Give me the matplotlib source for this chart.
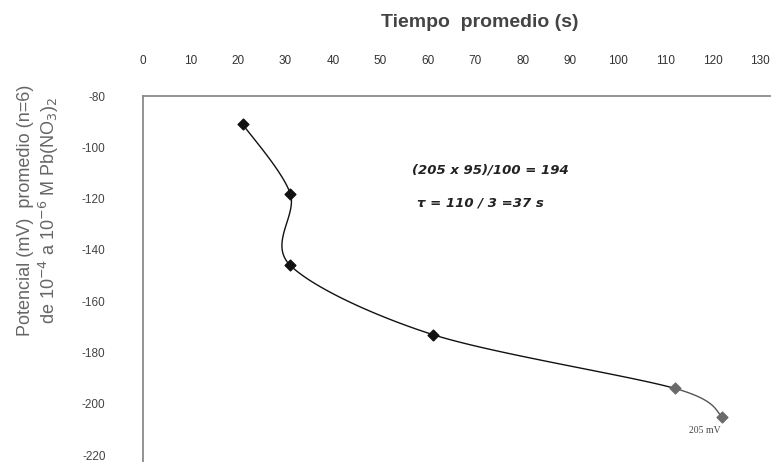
import numpy as np
import matplotlib
matplotlib.use("Agg")
import matplotlib.pyplot as plt

plt.rcParams["axes.unicode_minus"] = False

# tiempo promedio (s) vs potencial promedio (mV), n=6
tiempo = [21, 31, 31, 61, 112, 122]
potencial = [-91, -118, -146, -173, -194, -205]
x_ticks = list(range(0, 131, 10))
y_ticks = list(range(-220, -79, 20))


def smooth_curve(xs, ys, n=60, k=6.5):
    # Catmull-Rom style bezier smoothing (like a spreadsheet "smoothed line")
    pts = np.column_stack([xs, ys]).astype(float)
    padded = np.vstack([pts[0], pts, pts[-1]])
    segs = []
    t = np.linspace(0, 1, n)[:, None]
    for i in range(1, len(padded) - 2):
        p0, p1, p2, p3 = padded[i - 1], padded[i], padded[i + 1], padded[i + 2]
        c1 = p1 + (p2 - p0) / k
        c2 = p2 - (p3 - p1) / k
        seg = ((1 - t) ** 3) * p1 + 3 * ((1 - t) ** 2) * t * c1 + 3 * (1 - t) * t ** 2 * c2 + t ** 3 * p2
        segs.append(seg)
    return segs


fig = plt.figure(figsize=(7.71, 4.62), dpi=100)
ax = fig.add_axes([0.1855, 0.0, 0.813, 0.792])

segs = smooth_curve(tiempo, potencial)
for i, seg in enumerate(segs):
    col = "#555555" if i == len(segs) - 1 else "#111111"
    ax.plot(seg[:, 0], seg[:, 1], color=col, linewidth=1.0, zorder=2)

ax.scatter(tiempo[:4], potencial[:4], marker="D", s=30, color="#111111", zorder=3)
ax.scatter(tiempo[4:], potencial[4:], marker="D", s=30, color="#6a6a6a", zorder=3)

ax.set_xlim(0, 132)
ax.set_ylim(-222.7, -80)
ax.xaxis.tick_top()
ax.xaxis.set_label_position("top")
ax.set_xticks(x_ticks)
ax.set_yticks(y_ticks)
ax.tick_params(axis="x", length=0, pad=21, labelsize=8.5, labelcolor="#333333")
ax.tick_params(axis="y", length=0, pad=27, labelsize=8.5, labelcolor="#444444")
for lab in ax.get_xticklabels() + ax.get_yticklabels():
    lab.set_fontfamily("Liberation Sans")

for side in ("right", "bottom"):
    ax.spines[side].set_visible(False)
for side in ("top", "left"):
    ax.spines[side].set_color("#8a8a8a")
    ax.spines[side].set_linewidth(1.3)

fig.text(0.622, 0.952, "Tiempo  promedio (s)", ha="center", va="center",
         fontsize=14, fontweight="bold", color="#444444", family="Liberation Sans")
fig.text(0.051, 0.545, "Potencial (mV)  promedio (n=6)\nde 10$^{-4}$ a 10$^{-6}$ M Pb(NO$_3$)$_2$",
         ha="center", va="center", rotation=90, fontsize=13, color="#666666",
         family="Liberation Sans", linespacing=1.15)

ax.text(0.429, 0.798, "(205 x 95)/100 = 194", transform=ax.transAxes,
        fontsize=9.5, fontweight="bold", style="italic", color="#222222",
        family="DejaVu Sans", va="center")
ax.text(0.437, 0.708, "τ = 110 / 3 =37 s", transform=ax.transAxes,
        fontsize=9.5, fontweight="bold", style="italic", color="#222222",
        family="DejaVu Sans", va="center")
ax.annotate("205 mV", xy=(tiempo[-1], potencial[-1]), xytext=(-24, -10),
            textcoords="offset points", fontsize=7, color="#444444",
            family="Liberation Serif", va="center", ha="left")

fig.savefig("out.png", dpi=100)
